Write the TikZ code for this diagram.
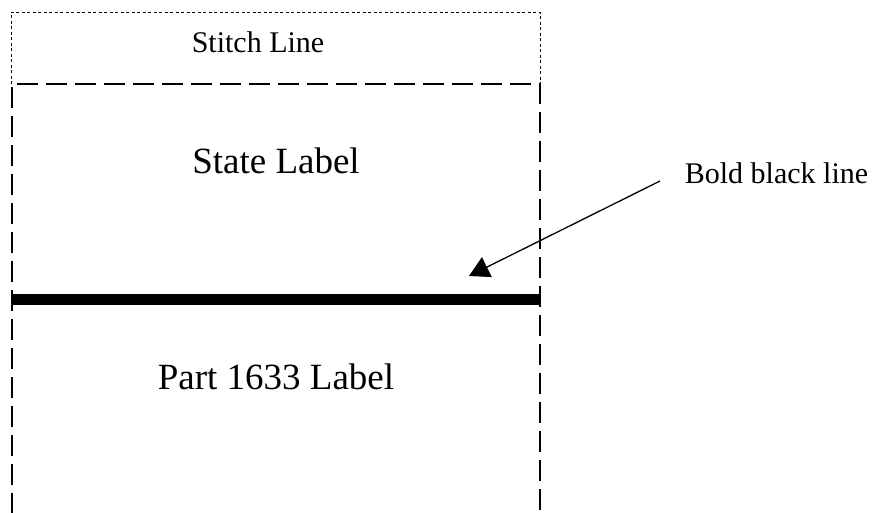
\documentclass[tikz,border=0pt]{standalone}
\usepackage{fontspec}
\setmainfont{Liberation Serif}
\usetikzlibrary{arrows.meta}
\begin{document}
\begin{tikzpicture}[x=1pt,y=-1pt,
  lbl/.style={anchor=base,inner sep=0pt,font=\fontsize{37}{40}\selectfont},
  sml/.style={anchor=base,inner sep=0pt,font=\fontsize{30}{34}\selectfont},
  dotbox/.style={line width=1pt,dash pattern=on 3pt off 2.5pt},
  dashbox/.style={line width=2.2pt,dash pattern=on 21pt off 8pt},
  boldline/.style={line width=11pt},
  pointer/.style={line width=1.3pt,-{Triangle[length=20pt,width=22pt]}}]
\useasboundingbox (0,0) rectangle (878,512);
% stitch line box
\draw[dotbox] (11,84) -- (11,12) -- (540,12) -- (540,84);
\node[sml] (stitch) at (258,52) {Stitch Line};
% dashed label box
\coordinate (tl) at (12,84);
\coordinate (tr) at (540,84);
\coordinate (bl) at (12,514);
\coordinate (br) at (540,514);
\draw[dashbox] (bl) -- (tl) -- (tr) -- (br);
\node[lbl] (state) at (276,173) {State Label};
\node[lbl] (part) at (276,389) {Part 1633 Label};
% bold line
\coordinate (bL) at (11,299.5);
\coordinate (bR) at (541,299.5);
\draw[boldline] (bL) -- (bR);
% annotation
\node[sml] (bold) at (776.5,183) {Bold black line};
\coordinate (pstart) at (660,181);
\coordinate (ptip) at (469,276);
\draw[pointer] (pstart) -- (ptip);
\end{tikzpicture}
\end{document}
